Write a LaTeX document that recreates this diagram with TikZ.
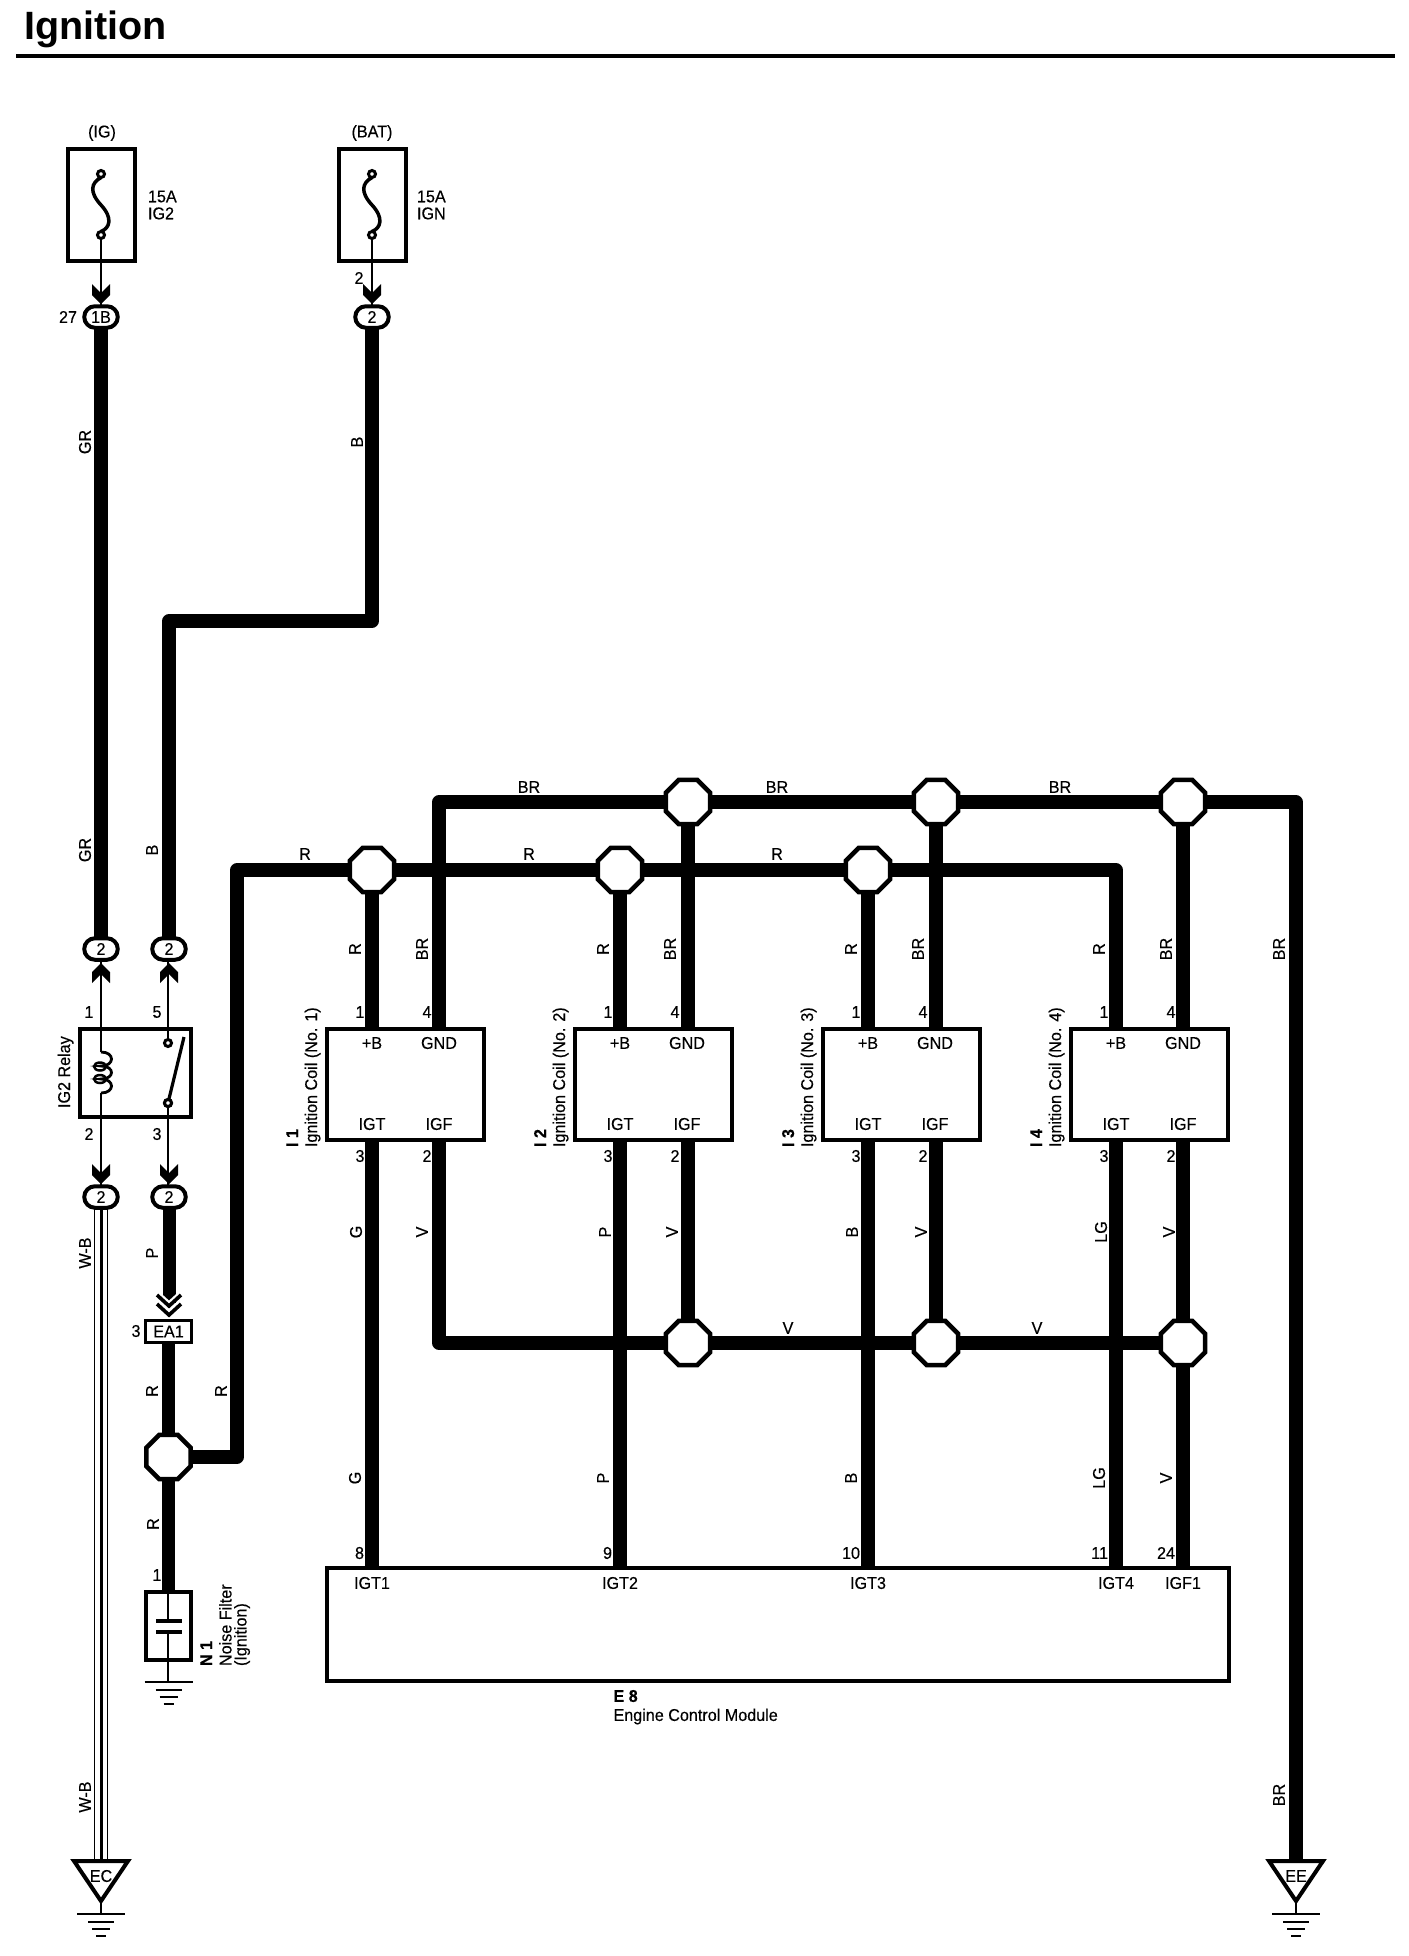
\documentclass[tikz,border=0pt]{standalone}
\usepackage{fontspec}
\setmainfont[FakeStretch=0.95,FakeBold=0.35]{Liberation Sans}
\newfontfamily\titlefont[FakeStretch=1]{Liberation Sans Bold}
\usetikzlibrary{shapes.geometric,shapes.misc,calc}
\newcommand{\chevD}[2]{\fill (#1-9,#2-20) -- (#1,#2-11) -- (#1+9,#2-20) -- (#1+9,#2-9) -- (#1,#2) -- (#1-9,#2-9) -- cycle;}
\newcommand{\chevU}[2]{\fill (#1-9,#2+20) -- (#1,#2+11) -- (#1+9,#2+20) -- (#1+9,#2+9) -- (#1,#2) -- (#1-9,#2+9) -- cycle;}
\newcommand{\gndsym}[2]{%
  \draw[gbar] (#1-24,#2) -- (#1+24,#2);
  \draw[gbar] (#1-13,#2+8) -- (#1+13,#2+8);
  \draw[gbar] (#1-9,#2+15) -- (#1+9,#2+15);
  \draw[gbar] (#1-5,#2+22) -- (#1+5,#2+22);}
\tikzset{
  x=1pt,y=-1pt,
  txt/.style={inner sep=0pt,outer sep=0pt,font=\fontsize{17}{17}\selectfont},
  vtxt/.style={txt,rotate=90},
  vname/.style={txt,rotate=90,anchor=base west},
  vbold/.style={txt,rotate=90,anchor=base west,font=\fontsize{17}{17}\selectfont\bfseries},
  boxn/.style={draw,line width=4pt,rectangle,inner sep=0pt,outer sep=0pt,line join=miter},
  wire/.style={line width=13.5pt,line join=round},
  thinw/.style={line width=2.8pt},
  junc/.style={draw,fill=white,line width=4.5pt,regular polygon,regular polygon sides=8,minimum size=48pt,inner sep=0pt,outer sep=0pt},
  oval/.style={draw,fill=white,line width=4pt,rounded rectangle,minimum width=33.5pt,minimum height=21.5pt,inner sep=0pt,outer sep=0pt,font=\fontsize{17}{17}\selectfont},
  pinc/.style={draw,fill=white,line width=3pt,circle,minimum size=7pt,inner sep=0pt,outer sep=0pt},
  gbar/.style={line width=2.8pt},
}
\begin{document}
\begin{tikzpicture}
\useasboundingbox (0,0) rectangle (1408,1956);
\fill[white] (0,0) rectangle (1408,1956);
% title
\node[anchor=base west,inner sep=0pt,font=\fontsize{39.5}{40}\selectfont\titlefont] (title) at (24,40) {Ignition};
\coordinate (ruleL) at (16,56);
\coordinate (ruleR) at (1395,56);
\draw[line width=4.5pt] (ruleL) -- (ruleR);
% fuses
\node[boxn,minimum width=67pt,minimum height=112pt] (fuseA) at (101.5,205) {};
\node[boxn,minimum width=67pt,minimum height=112pt] (fuseB) at (372,205) {};
\node[txt] (lIG) at (102,133) {(IG)};
\node[txt] (lBAT) at (372,133) {(BAT)};
\node[txt,anchor=west,align=left] (lA) at (148,205) {15A\\IG2};
\node[txt,anchor=west,align=left] (lB) at (417,205) {15A\\IGN};
\node[pinc] (fA1) at (101,174) {};
\node[pinc] (fA2) at (101,235) {};
\node[pinc] (fB1) at (372,174) {};
\node[pinc] (fB2) at (372,235) {};
\foreach \f/\X in {A/101,B/372}{
  \draw[line width=3.5pt] (f\f1.south) .. controls (\X-10,183) and (\X-12,192) .. (\X,205) .. controls (\X+12,218) and (\X+9,228) .. (f\f2.north);
}
% connectors
\node[oval] (oA) at (101,317) {1B};
\node[oval] (oB) at (372,317) {2};
\node[oval] (oC) at (101,949) {2};
\node[oval] (oD) at (169,949) {2};
\node[oval] (oE) at (101,1197) {2};
\node[oval] (oF) at (169,1197) {2};
\node[txt] (n27) at (68,317) {27};
\node[txt] (n2b) at (359,278) {2};
\draw[thinw] (fA2.south) -- (oA.north);
\draw[thinw] (fB2.south) -- (oB.north);
\chevD{101}{304}
\chevD{372}{304}
% upper thick wires
\coordinate (bTurn1) at (372,621);
\coordinate (bTurn2) at (169,621);
\draw[wire] (oA.south) -- (oC.north);
\draw[wire] (oB.south) -- (bTurn1) -- (bTurn2) -- (oD.north);
\node[vtxt] (wGR1) at (85,442) {GR};
\node[vtxt] (wGR2) at (85,850) {GR};
\node[vtxt] (wB1) at (357,442) {B};
\node[vtxt] (wB2) at (152,850) {B};
% relay
\node[boxn,minimum width=111pt,minimum height=88pt] (relay) at (135.5,1073) {};
\node[vname] (lRelay) at (70,1108) {IG2 Relay};
\node[txt] (p1) at (89,1012) {1};
\node[txt] (p5) at (157,1012) {5};
\node[txt] (p2) at (89,1134) {2};
\node[txt] (p3) at (157,1134) {3};
\coordinate (coilT) at (101,1052);
\coordinate (coilB) at (101,1093);
\draw[thinw] (oC.south) -- (coilT);
\draw[thinw] (coilB) -- (oE.north);
\draw[thinw] (coilT) .. controls (115,1052) and (115,1066) .. (101,1066)
   .. controls (115,1066) and (115,1079) .. (101,1079)
   .. controls (115,1079) and (115,1093) .. (coilB);
\draw[line width=2.5pt] (100,1066.5) ellipse [x radius=6,y radius=4];
\draw[line width=2.5pt] (100,1079) ellipse [x radius=6,y radius=4];
\chevU{101}{963}
\chevU{169}{963}
\chevD{101}{1184}
\chevD{169}{1184}
\node[pinc] (sw1) at (168,1043) {};
\node[pinc] (sw2) at (168,1103) {};
\coordinate (swTip) at (184,1037);
\draw[thinw] (oD.south -| sw1) -- (sw1.north);
\draw[thinw] (sw2.south) -- (oF.north -| sw2);
\draw[line width=3.2pt] (sw2) -- (swTip);
\node[pinc] at (sw2) {};
% W-B
\coordinate (ecTop) at (101,1861);
\foreach \dx/\w in {-6.5/1.6,0.5/3,6.5/1.6}
  \draw[line width=\w pt] ($(oE.south)+(\dx,0)$) -- ($(ecTop)+(\dx,0)$);
\node[vtxt] (wWB1) at (85,1253) {W-B};
\node[vtxt] (wWB2) at (85,1797) {W-B};
% EC ground
\draw[line width=4pt,line join=miter,fill=white] (74,1861) -- (128,1861) -- (101,1901) -- cycle;
\node[txt] (ec) at (101,1876) {EC};
\coordinate (ecStem) at (101,1901);
\coordinate (ecBar) at (101,1914);
\draw[thinw] (ecStem) -- (ecBar);
\gndsym{101}{1914}
% P wire, EA1
\node[boxn,line width=3.4pt,minimum width=46pt,minimum height=22pt,fill=white] (ea) at (168.5,1331.5) {};
\node[txt] (eaT) at (ea) {EA1};
\node[txt] (n3) at (136,1331) {3};
\coordinate (pEnd) at (169,1303);
\draw[line width=13pt] (oF.south) -- (pEnd);
\draw[line width=3.6pt,white] (157,1292) -- (169,1303) -- (181,1292);
\draw[line width=3.6pt] (157,1295) -- (169,1306) -- (181,1295);
\draw[line width=3.6pt] (157,1304) -- (169,1315) -- (181,1304);
\node[vtxt] (wP) at (152,1253) {P};
% junctions
\node[junc] (jM) at (168.5,1457) {};
\foreach \n/\X in {1/372,2/620,3/868}
  \node[junc] (jR\n) at (\X,870) {};
\foreach \n/\X in {1/688,2/936,3/1183}{
  \node[junc] (jB\n) at (\X,802) {};
  \node[junc] (jV\n) at (\X,1343) {};
}
% noise filter
\node[boxn,minimum width=45pt,minimum height=68pt] (nf) at (168.5,1625.5) {};
\draw[wire] (ea.south) -- (jM.north);
\draw[wire] (jM.south) -- (nf.north);
\node[vtxt] (wR1) at (152,1391) {R};
\node[vtxt] (wR2) at (153,1524) {R};
\node[txt] (n1f) at (157,1575) {1};
\coordinate (capA) at (168,1621);
\coordinate (capB) at (168,1632);
\draw[line width=2.6pt] (nf.north -| capA) -- (capA);
\draw[line width=2.6pt] (capB) -- (168,1682);
\draw[line width=4.5pt] (156,1621) -- (182,1621);
\draw[line width=4.5pt] (156,1632) -- (182,1632);
\gndsym{168.5}{1682}
\node[vbold] (lN1) at (212,1666) {N 1};
\node[txt,rotate=90,anchor=south west,align=left,font=\fontsize{17}{15}\selectfont] (lNF) at (250,1666) {Noise Filter\\(Ignition)};
% coils
\foreach \n/\X in {1/372,2/620,3/868,4/1116}{
  \node[boxn,minimum width=157pt,minimum height=111pt] (coil\n) at (\X+33.5,1084.5) {};
  \node[txt] (cB\n) at (\X,1043) {+B};
  \node[txt] (cG\n) at (\X+67,1043) {GND};
  \node[txt] (cT\n) at (\X,1124) {IGT};
  \node[txt] (cF\n) at (\X+67,1124) {IGF};
  \node[txt] (pa\n) at (\X-12,1012) {1};
  \node[txt] (pb\n) at (\X+55,1012) {4};
  \node[txt] (pc\n) at (\X-12,1156) {3};
  \node[txt] (pd\n) at (\X+55,1156) {2};
  \node[vtxt] (wr\n) at (\X-17,949) {R};
  \node[vtxt] (wb\n) at (\X+50,949) {BR};
  \node[vbold] (ci\n) at (\X-74,1147) {I \n};
  \node[vname] (cn\n) at (\X-55,1147) {Ignition Coil (No. \n)};
}
% ECU
\node[boxn,minimum width=902.5pt,minimum height=112.5pt] (ecu) at (778,1624.7) {};
\node[txt,anchor=north west,align=left,font=\fontsize{17}{19}\selectfont] (lE) at (613.5,1690) {\textbf{E 8}\\Engine Control Module};
\foreach \n/\X/\l/\t/\c/\cl in {1/372/8/IGT1/G/356,2/620/9/IGT2/P/605,3/868/10/IGT3/B/852,4/1116/11/IGT4/LG/1101}{
  \node[txt] (ep\n) at (\X,1583) {\t};
  \node[txt,anchor=east] (en\n) at (\X-8,1553) {\l};
  \node[vtxt] (wu\n) at (\cl,1232) {\c};
  \node[vtxt] (wl\n) at (\X-17,1478) {\c};
  \draw[wire] (coil\n.south -| cT\n) -- (ecu.north -| cT\n);
}
\node[txt] (ep5) at (1183,1583) {IGF1};
\node[txt,anchor=east] (en5) at (1175,1553) {24};
\node[vtxt] (wv5) at (1166,1478) {V};
\foreach \n/\X in {1/422,2/672,3/921,4/1169}
  \node[vtxt] (wv\n) at (\X,1232) {V};
% R bus
\coordinate (rA) at (237,1457);
\coordinate (rB) at (237,870);
\coordinate (rC) at (1116,870);
\draw[wire] (jM.east) -- (rA) -- (rB) -- (jR1.west);
\draw[wire] (jR1.east) -- (jR2.west);
\draw[wire] (jR2.east) -- (jR3.west);
\draw[wire] (jR3.east) -- (rC) -- (coil4.north -| rC);
\foreach \n in {1,2,3}
  \draw[wire] (jR\n.south) -- (coil\n.north -| jR\n);
\node[vtxt] (wRh) at (221,1391) {R};
\node[txt] (hR1) at (305,854) {R};
\node[txt] (hR2) at (529,854) {R};
\node[txt] (hR3) at (777,854) {R};
% BR bus
\coordinate (gA) at (439,1027);
\coordinate (gB) at (439,802);
\coordinate (gC) at (1296,802);
\coordinate (gD) at (1296,1861);
\draw[wire] (gA) -- (gB) -- (jB1.west);
\draw[wire] (jB1.east) -- (jB2.west);
\draw[wire] (jB2.east) -- (jB3.west);
\draw[wire] (jB3.east) -- (gC) -- (gD);
\draw[wire] (jB1.south) -- (coil2.north -| jB1);
\draw[wire] (jB2.south) -- (coil3.north -| jB2);
\draw[wire] (jB3.south) -- (coil4.north -| jB3);
\node[txt] (hB1) at (529,787) {BR};
\node[txt] (hB2) at (777,787) {BR};
\node[txt] (hB3) at (1060,787) {BR};
\node[vtxt] (wBf) at (1279,949) {BR};
\node[vtxt] (wBg) at (1279,1795) {BR};
% V bus
\coordinate (vA) at (439,1142);
\coordinate (vB) at (439,1343);
\draw[wire] (vA) -- (vB) -- (jV1.west);
\draw[wire] (jV1.east) -- (jV2.west);
\draw[wire] (jV2.east) -- (jV3.west);
\draw[wire] (coil2.south -| jV1) -- (jV1.north);
\draw[wire] (coil3.south -| jV2) -- (jV2.north);
\draw[wire] (coil4.south -| jV3) -- (jV3.north);
\draw[wire] (jV3.south) -- (ecu.north -| jV3);
\node[txt] (hV1) at (788,1328) {V};
\node[txt] (hV2) at (1037,1328) {V};
% EE ground
\draw[line width=4pt,line join=miter,fill=white] (1269,1861) -- (1323,1861) -- (1296,1901) -- cycle;
\node[txt] (ee) at (1296,1876) {EE};
\coordinate (eeStem) at (1296,1901);
\coordinate (eeBar) at (1296,1914);
\draw[thinw] (eeStem) -- (eeBar);
\gndsym{1296}{1914}
\end{tikzpicture}
\end{document}
